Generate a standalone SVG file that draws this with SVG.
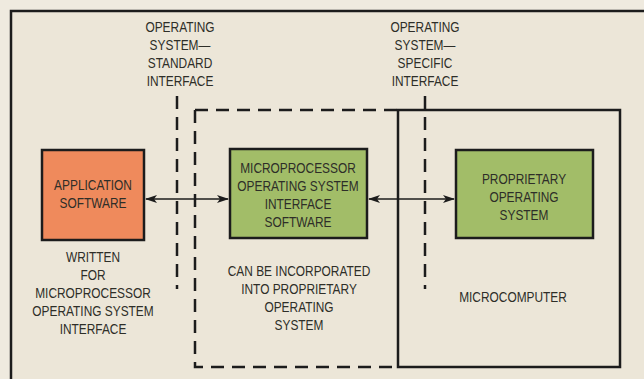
<svg xmlns="http://www.w3.org/2000/svg" width="644" height="379" viewBox="0 0 644 379">
<defs>
<style>
text{font-family:"Liberation Sans",Arial,sans-serif;font-size:14px;fill:#2e2e28;text-anchor:middle}
.box{stroke:#1c1c1c;stroke-width:2.5}
.green{fill:#a2bd68}
.orange{fill:#ef8a5c}
.solid{fill:none;stroke:#1c1c1c;stroke-width:2.5}
.dash{fill:none;stroke:#1c1c1c;stroke-width:2.5;stroke-dasharray:13,8}
.arrow{fill:none;stroke:#1c1c1c;stroke-width:1.5;marker-start:url(#ah);marker-end:url(#ah)}
</style>
<marker id="ah" viewBox="0 0 12 8" refX="11" refY="4" markerWidth="12" markerHeight="8" markerUnits="userSpaceOnUse" orient="auto-start-reverse">
<path d="M0,0 L12,4 L0,8 L3,4 Z" fill="#1c1c1c"/>
</marker>
</defs>
<rect x="0" y="0" width="644" height="379" fill="#efeadf"/>
<rect x="11" y="11" width="640" height="380" fill="#ece6d8" stroke="#1c1c1c" stroke-width="2.5"/>
<g id="connectors">
<path class="dash" d="M195,110 H398"/>
<path class="dash" d="M195,110 V367 H398"/>
<rect class="solid" x="398" y="110" width="222" height="257"/>
<path class="dash" d="M177,96 V289" stroke-dasharray="5,9,13,8"/>
<path class="dash" d="M425,96 V289" stroke-dasharray="5,9,13,8"/>
<path class="arrow" d="M146,199 H228"/>
<path class="arrow" d="M369,199 H454"/>
</g>
<g id="app">
<rect class="box orange" x="42" y="150" width="102" height="90"/>
<text transform="translate(93,190) scale(0.85,1)">APPLICATION</text>
<text transform="translate(93,208) scale(0.85,1)">SOFTWARE</text>
</g>
<g id="mposi">
<rect class="box green" x="230" y="149" width="137" height="89"/>
<text transform="translate(298,173) scale(0.85,1)">MICROPROCESSOR</text>
<text transform="translate(298,191) scale(0.85,1)">OPERATING SYSTEM</text>
<text transform="translate(298,209) scale(0.85,1)">INTERFACE</text>
<text transform="translate(298,227) scale(0.85,1)">SOFTWARE</text>
</g>
<g id="pos">
<rect class="box green" x="456" y="150" width="137" height="88"/>
<text transform="translate(524,184) scale(0.85,1)">PROPRIETARY</text>
<text transform="translate(524,202) scale(0.85,1)">OPERATING</text>
<text transform="translate(524,220) scale(0.85,1)">SYSTEM</text>
</g>
<g id="labels">
<text transform="translate(180,32) scale(0.85,1)">OPERATING</text>
<text transform="translate(180,50) scale(0.85,1)">SYSTEM—</text>
<text transform="translate(180,68) scale(0.85,1)">STANDARD</text>
<text transform="translate(180,86) scale(0.85,1)">INTERFACE</text>
<text transform="translate(425,32) scale(0.85,1)">OPERATING</text>
<text transform="translate(425,50) scale(0.85,1)">SYSTEM—</text>
<text transform="translate(425,68) scale(0.85,1)">SPECIFIC</text>
<text transform="translate(425,86) scale(0.85,1)">INTERFACE</text>
<text transform="translate(93,262) scale(0.85,1)">WRITTEN</text>
<text transform="translate(93,280) scale(0.85,1)">FOR</text>
<text transform="translate(93,298) scale(0.85,1)">MICROPROCESSOR</text>
<text transform="translate(93,316) scale(0.85,1)">OPERATING SYSTEM</text>
<text transform="translate(93,334) scale(0.85,1)">INTERFACE</text>
<text transform="translate(299,276) scale(0.85,1)">CAN BE INCORPORATED</text>
<text transform="translate(299,294) scale(0.85,1)">INTO PROPRIETARY</text>
<text transform="translate(299,312) scale(0.85,1)">OPERATING</text>
<text transform="translate(299,330) scale(0.85,1)">SYSTEM</text>
<text transform="translate(513,302) scale(0.85,1)">MICROCOMPUTER</text>
</g>
</svg>
